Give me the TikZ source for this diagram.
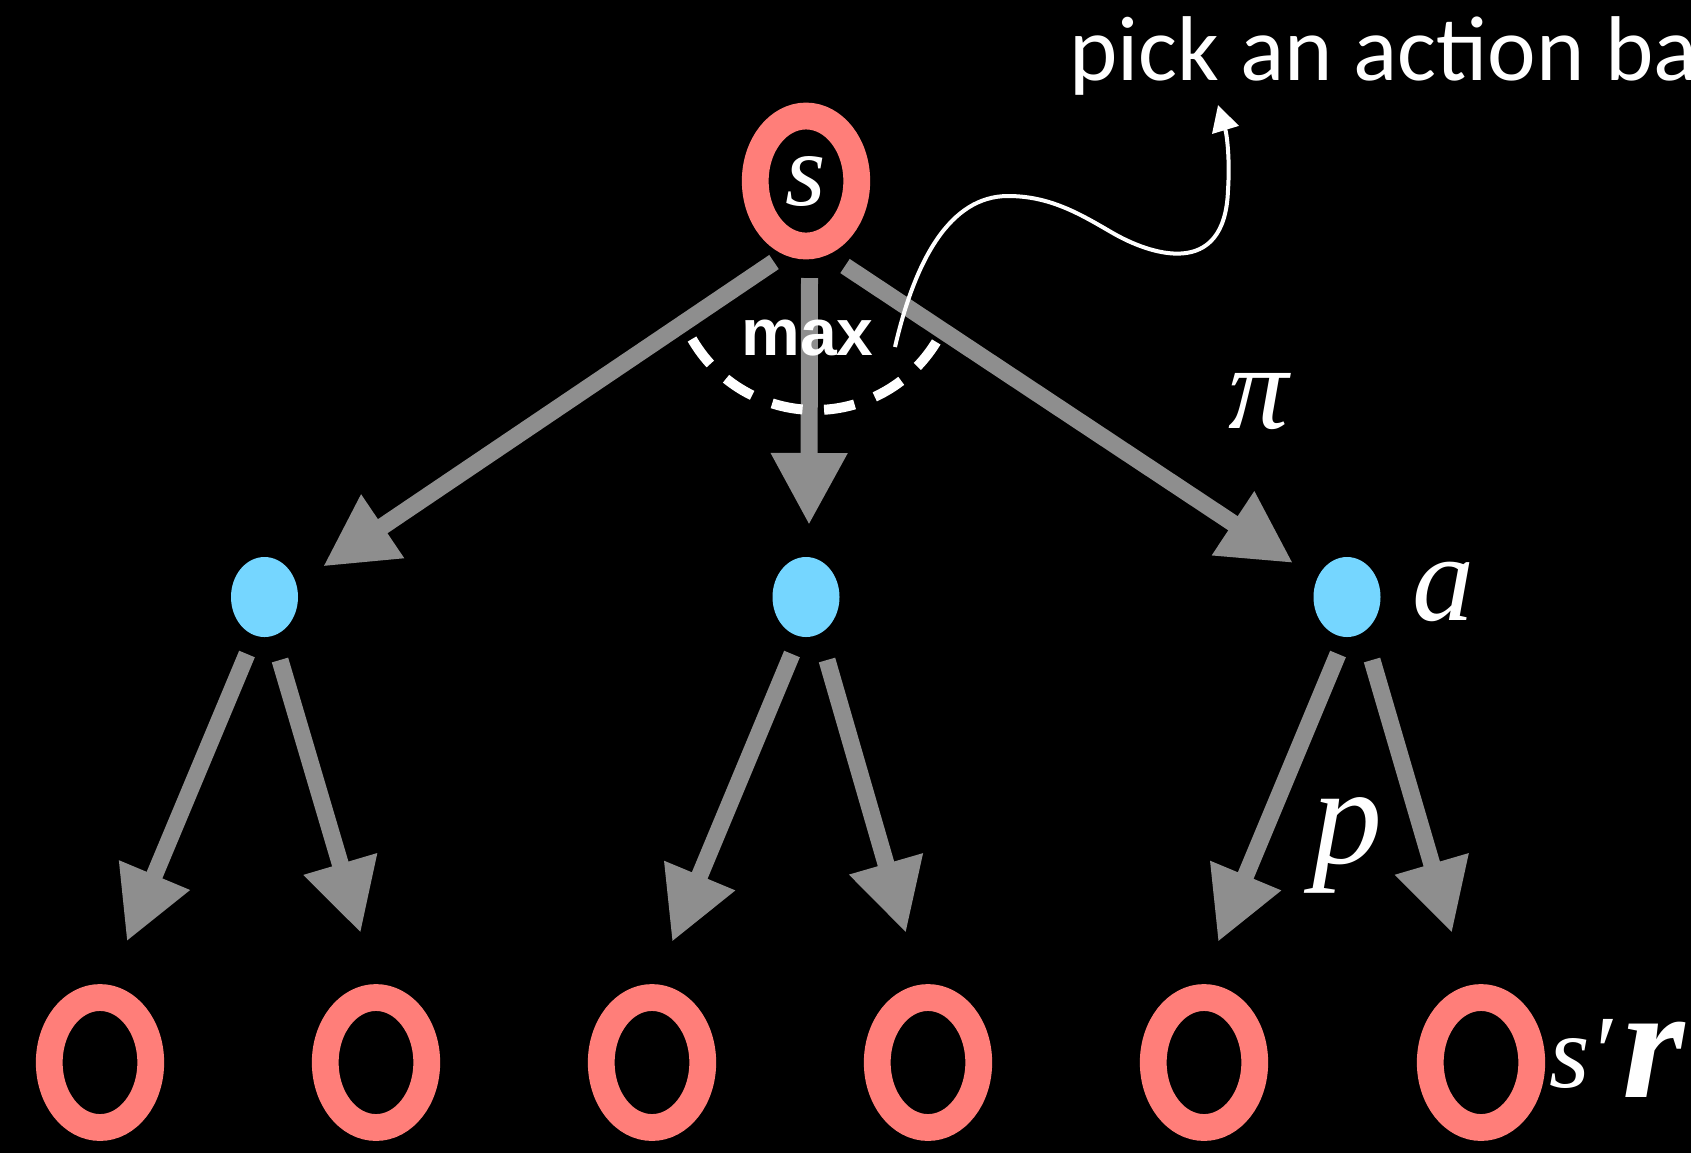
\documentclass[tikz,border=0pt]{standalone}
\usepackage{fontspec}
\setmainfont{Liberation Serif}
\newfontfamily\calib{Carlito}
\newfontfamily\helv{Liberation Sans}
\usetikzlibrary{arrows.meta,shapes.geometric,calc}
\definecolor{ringc}{RGB}{255,126,121}
\definecolor{dotc}{RGB}{117,214,255}
\definecolor{shaftc}{RGB}{142,142,142}
\begin{document}
\begin{tikzpicture}[x=0.5pt,y=-0.5pt,
  ring/.style={ellipse, draw=ringc, line width=13.4pt, minimum width=50.75pt, minimum height=65pt, inner sep=0pt},
  dot/.style={ellipse, fill=dotc, minimum width=33.5pt, minimum height=40pt, inner sep=0pt},
  garrow/.style={draw=shaftc, line width=8.5pt, -{Triangle[length=36pt,width=36pt]}},
  ital/.style={text=white, inner sep=0pt, font=\fontsize{#1}{#1}\selectfont\itshape},
  maxarc/.style={draw=white, line width=5pt, dash pattern=on 15.5pt off 10.8pt},
  wcurve/.style={draw=white, line width=2pt, -{Triangle[length=13pt,width=13.5pt]}}
]
\useasboundingbox (0,0) rectangle (1691,1153);
\fill[black] (0,0) rectangle (1691,1153);
\clip (0,0) rectangle (1691,1153);

% nodes
\node[ring, ital=52] (s) at (806,181) {s};
\node[dot] (d1) at (264.5,597) {};
\node[dot] (d2) at (806,597) {};
\node[dot] (d3) at (1347,597) {};
\node[ring] (b1) at (100,1062.5) {};
\node[ring] (b2) at (376,1062.5) {};
\node[ring] (b3) at (652,1062.5) {};
\node[ring] (b4) at (928,1062.5) {};
\node[ring] (b5) at (1204,1062.5) {};
\node[ring] (b6) at (1481,1062.5) {};

% gray arrows
\draw[garrow] ($(s)+(-32,81)$) -- ($(d1)+(58.5,-30.5)$);
\draw[garrow] ($(s)+(3.5,97)$) -- ($(d2)+(3,-72)$);
\draw[garrow] ($(s)+(39,85)$) -- ($(d3)+(-54,-34)$);
\draw[garrow] ($(d1)+(-17.5,57)$) -- ($(b1)+(26.7,-121)$);
\draw[garrow] ($(d1)+(15.5,63)$) -- ($(b2)+(-15.3,-129.5)$);
\draw[garrow] ($(d2)+(-14,57)$) -- ($(b3)+(20,-120.5)$);
\draw[garrow] ($(d2)+(21,63)$) -- ($(b4)+(-22,-129.5)$);
\draw[garrow] ($(d3)+(-9,57)$) -- ($(b5)+(14,-120.5)$);
\draw[garrow] ($(d3)+(25,63)$) -- ($(b6)+(-29,-129.5)$);

% max arc
\coordinate (arcc) at (815,268);
\draw[maxarc] (arcc) ++(150:142) arc[start angle=150, end angle=30, radius=142];
\node[text=white, inner sep=0pt, font=\helv\bfseries\fontsize{33}{33}\selectfont] (maxl) at (807.5,338.5) {max};

% white curve
\coordinate (cstart) at (895,347);
\coordinate (cend) at (1218,105);
\draw[wcurve] (cstart) .. controls (915,260) and (950,196) .. (1008,196)
  .. controls (1050,196) and (1080,214) .. (1111,232)
  .. controls (1150,255) and (1225,280) .. (1228,190)
  .. controls (1230,160) and (1227,135) .. (cend);

% labels
\node[text=white, inner sep=0pt, anchor=base west, font=\calib\fontsize{46}{46}\selectfont] (pick) at (1069,80) {pick an action ba};
\node[ital=60] (pi) at (1259,402) {π};
\node[ital=62] (al) at (1443,592) {a};
\node[ital=70] (pl) at (1347,845) {p};
\node[ital=52, anchor=base west] (sp) at (1549,1087) {s′};
\node[text=white, inner sep=0pt, anchor=base west, font=\fontsize{80}{80}\selectfont\bfseries\itshape] (rl) at (1622,1097) {r};
\end{tikzpicture}
\end{document}
